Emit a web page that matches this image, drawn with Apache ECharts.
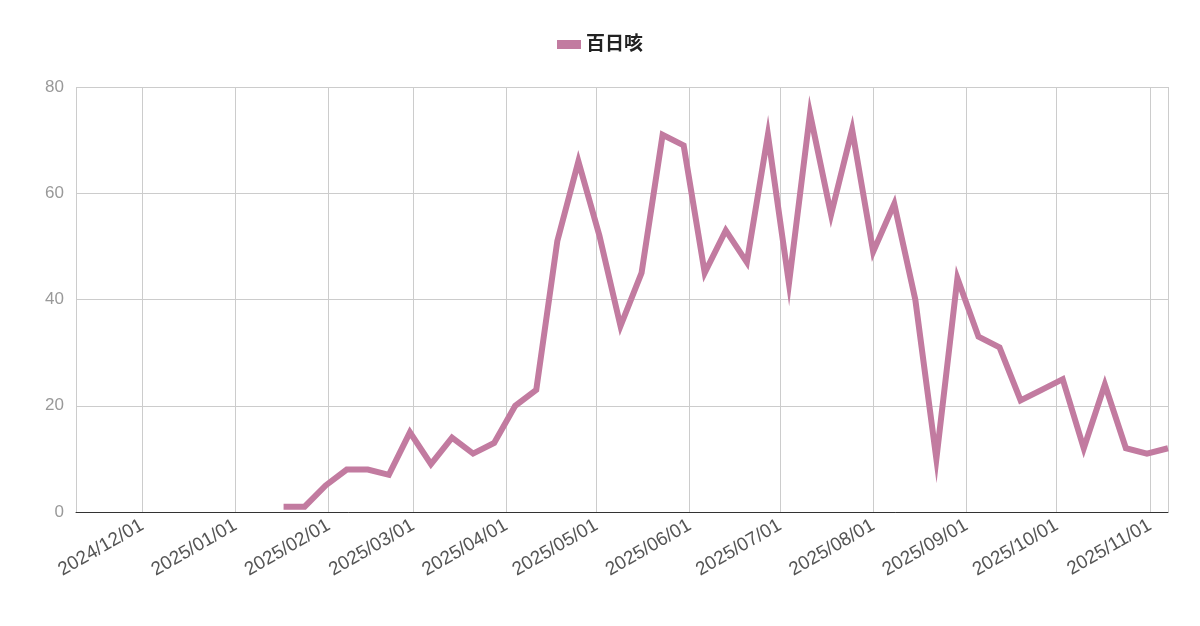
<!DOCTYPE html>
<html>
<head>
<meta charset="utf-8">
<script src="https://cdn.jsdelivr.net/npm/echarts@6/dist/echarts.min.js"></script>
<style>html,body{margin:0;background:#fff}#c{width:1200px;height:626px}</style>
</head>
<body>
<div id="c"></div>
<script>
// weekly counts, first week starting 2025-01-17
const startDate = "2025-01-17";
const seriesName = "百日咳";
const counts = [1, 1, 5, 8, 8, 7, 15, 9, 14, 11, 13, 20, 23, 51, 66, 52, 35, 45, 71, 69,
  45, 53, 47, 71, 43, 75, 56, 72, 49, 58, 40, 10, 44, 33, 31, 21, 23, 25, 12, 24,
  12, 11, 12];
const yTicks = [0, 20, 40, 60, 80];

function buildData() {
  let t0 = new Date(startDate + "T00:00:00").getTime(),
    out = [];
  for (let i = 0; i < counts.length; i++) {
    out.push([t0 + i * 7 * 86400000, counts[i]]);
  }
  return out;
}

let myChart = echarts.init(document.getElementById("c")),
  option;
option = {
  textStyle: { fontFamily: "'Liberation Sans', Arial, 'Noto Sans CJK JP', sans-serif" },
  legend: {
    top: 30,
    left: "center",
    itemWidth: 24,
    itemHeight: 9,
    itemGap: 12,
    icon: "rect",
    textStyle: { fontSize: 19, color: "#222", fontWeight: "bold" },
    data: [seriesName]
  },
  grid: { left: 76, right: 32, top: 87, bottom: 114 },
  xAxis: {
    type: "time",
    min: new Date("2024-11-09T00:00:00").getTime(),
    max: new Date("2025-11-07T00:00:00").getTime(),
    splitNumber: 12,
    axisLine: { lineStyle: { color: "#333" } },
    axisTick: { show: false },
    splitLine: { show: true, lineStyle: { color: "#ccc" } },
    axisLabel: {
      rotate: 30,
      fontSize: 19,
      color: "#555",
      margin: 12,
      formatter: "{yyyy}/{MM}/{dd}",
      hideOverlap: false
    }
  },
  yAxis: {
    type: "value",
    min: yTicks[0],
    max: yTicks[yTicks.length - 1],
    interval: 20,
    axisLine: { show: false },
    axisTick: { show: false },
    splitLine: { lineStyle: { color: "#ccc" } },
    axisLabel: { fontSize: 17, color: "#999", margin: 12 }
  },
  series: [
    {
      name: seriesName,
      type: "line",
      data: buildData(),
      symbol: "none",
      lineStyle: { color: "#c27ba0", width: 6, join: "miter", miterLimit: 10 },
      itemStyle: { color: "#c27ba0" }
    }
  ]
};
myChart.setOption(option);
</script>
</body>
</html>
